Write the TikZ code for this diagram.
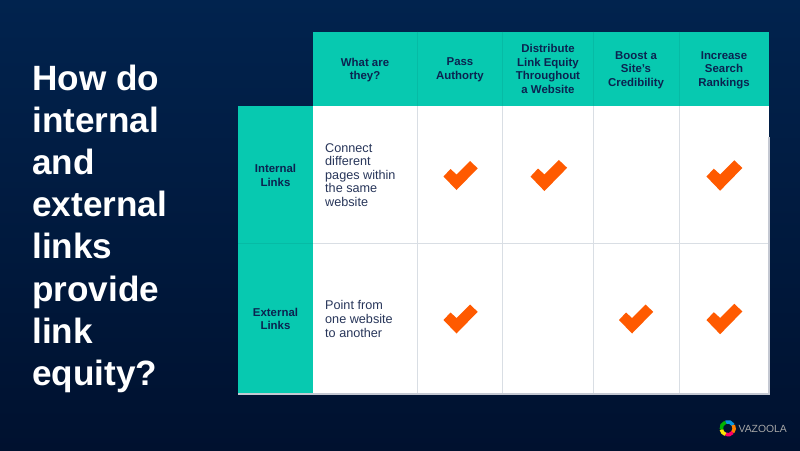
\documentclass[tikz,border=0pt]{standalone}
\usepackage{fontspec}
\setmainfont{Liberation Sans}
\usetikzlibrary{positioning}
\definecolor{mnavy}{HTML}{01234E}
\definecolor{mmid}{HTML}{011F49}
\definecolor{mdeep}{HTML}{00112F}
\definecolor{mteal}{HTML}{07C9B0}
\definecolor{mtealline}{HTML}{06BBA5}
\definecolor{mgrid}{HTML}{D9DEE4}
\definecolor{medge}{HTML}{C4C8D2}
\definecolor{mink}{HTML}{0B2350}
\definecolor{mbody}{HTML}{28365A}
\definecolor{morange}{HTML}{FF5A00}
\tikzset{head/.style = {align=center, text=mink, font=\fontsize{6.5}{7.75}\selectfont\bfseries},
         body/.style = {align=left, anchor=west, text=mbody, font=\fontsize{7.2}{7.75}\selectfont},
         ring/.style = {line width=2pt},
         tick/.pic = {\fill [morange] (-17, 1) -- (-4, 14.5) -- (17.2, -7.2) -- (9.5, -14.5)
                                      -- (-4, -1) -- (-10, -6.5) -- cycle;}}

\begin{document}
\begin{tikzpicture}[x=0.02cm, y=-0.02cm]
    \useasboundingbox (0, 0) rectangle (800, 450);
    \shade [top color=mnavy, middle color=mmid, bottom color=mdeep] (0, 0) rectangle (800, 450);

    % table
    \fill [white] (313, 106) rectangle (769, 394);
    \fill [mteal] (313, 31.5) rectangle (769, 106);
    \fill [mteal] (238, 106) rectangle (313, 394);
    \foreach \x in {417.5, 502.5, 593.5, 679} {
        \draw [mtealline, line width=0.3pt] (\x, 31.5) -- (\x, 106);
        \draw [mgrid, line width=0.5pt] (\x, 106) -- (\x, 394);
    }
    \draw [mgrid, line width=0.5pt] (313, 243.5) -- (769, 243.5);
    \draw [mtealline, line width=0.3pt] (238, 243.5) -- (313, 243.5);
    \draw [medge, line width=0.6pt] (238, 394) -- (769, 394) -- (769, 137);

    \node [head] (what) at (365, 70) {What are\\they?};
    \node [head] (pass) at (460, 70) {Pass\\Authorty};
    \node [head] (distribute) at (548, 69) {Distribute\\Link Equity\\Throughout\\a Website};
    \node [head] (boost) at (636, 70) {Boost a\\Site's\\Credibility};
    \node [head] (increase) at (724, 70) {Increase\\Search\\Rankings};
    \node [head] (internal) at (275.5, 175.5) {Internal\\Links};
    \node [head] (external) at (275.5, 319) {External\\Links};
    \node [body] (connect) at (319, 175) {Connect\\different\\pages within\\the same\\website};
    \node [body] (point) at (319, 319) {Point from\\one website\\to another};

    % checks
    \foreach \x/\y/\s in {460.5/175.5/1, 548.7/175.5/1.07, 724.3/175.5/1.05,
                          460.5/319/1, 636/319/1, 724.3/319/1.05}
        \pic [scale=\s] at (\x, \y) {tick};

    \node [anchor=north west, align=left, text=white, inner sep=0pt,
           font=\fontsize{20}{24}\selectfont\bfseries] (title) at (32, 64.5)
        {How do\\internal\\and\\external\\links\\provide\\link\\equity?};

    % logo
    \foreach \a/\b/\c in {-110/-30/cyan!80!blue, -30/40/orange, 40/110/red!60!magenta,
                          110/170/yellow!90!orange, 170/250/green!70!black}
        \draw [ring, \c] ([shift={(\a:6.5)}]727.7, 428.3) arc(\a:\b:6.5);
    \node [anchor=west, inner sep=0pt, text=gray!70!white,
           font=\fontsize{5.9}{8}\selectfont] (vazoola) at (738.3, 428.5) {VAZOOLA};
\end{tikzpicture}
\end{document}
